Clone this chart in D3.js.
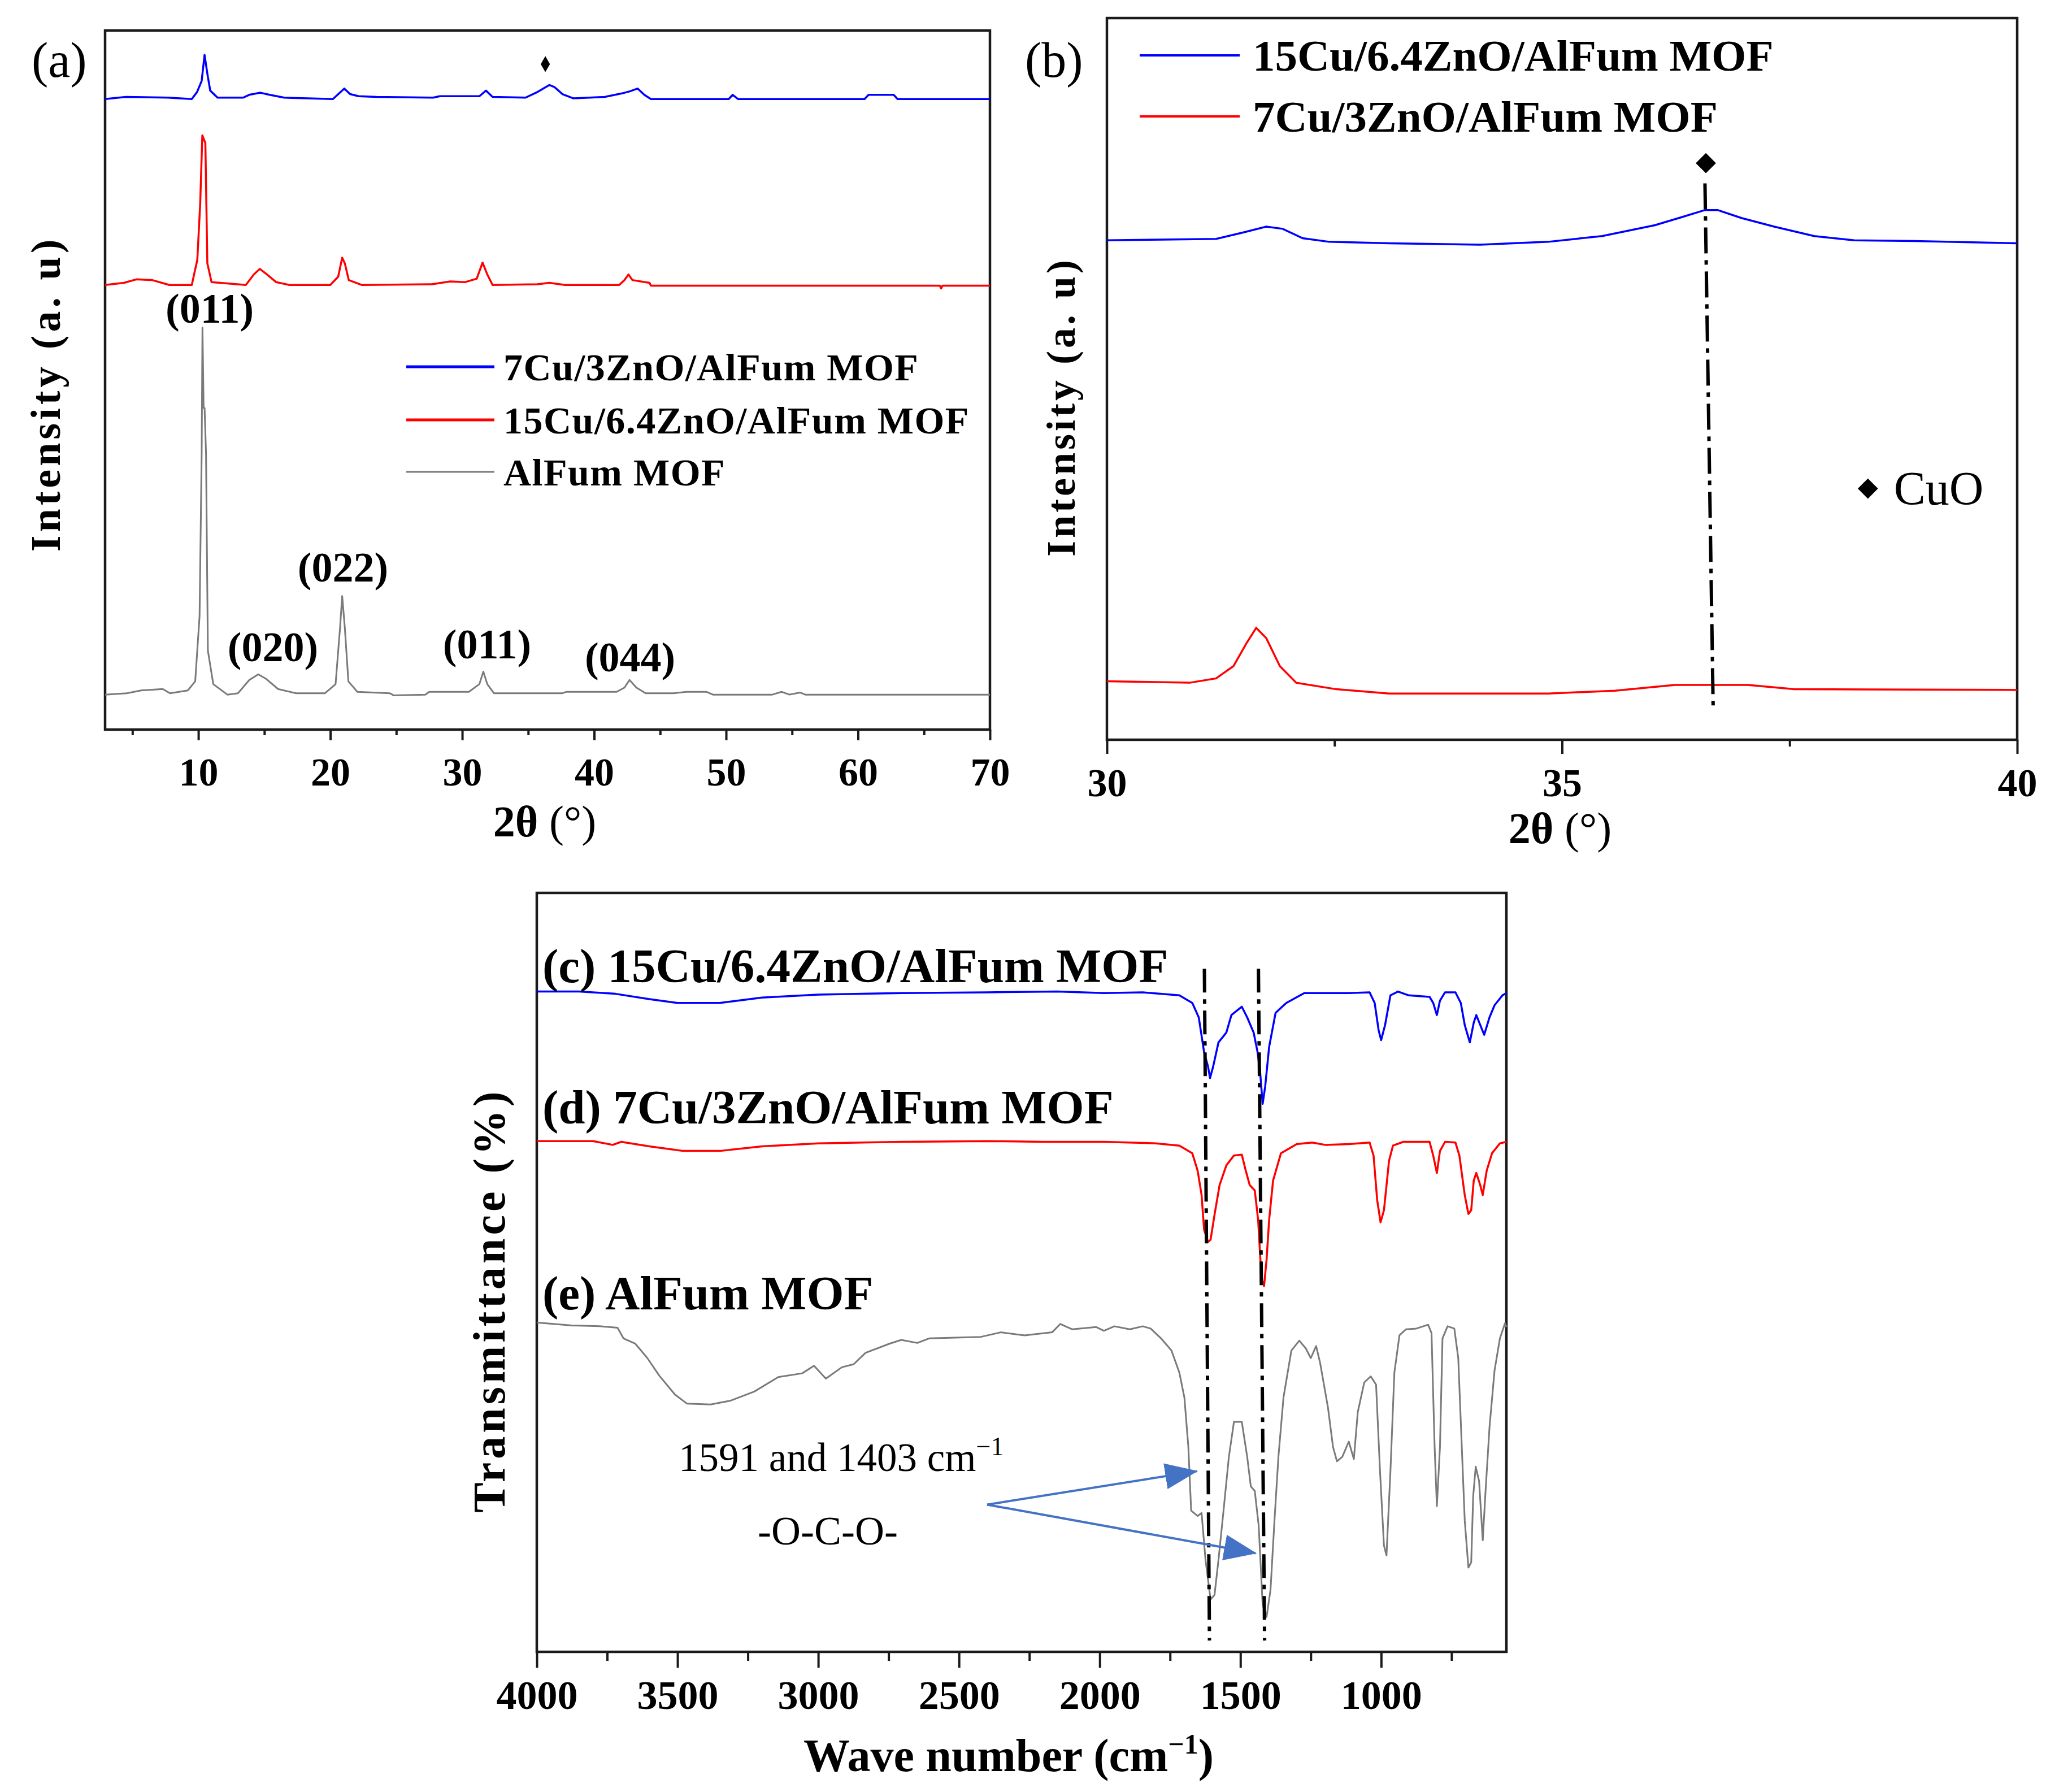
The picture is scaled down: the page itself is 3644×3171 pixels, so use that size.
<!DOCTYPE html>
<html>
<head>
<meta charset="utf-8">
<script src="https://cdn.jsdelivr.net/npm/d3@7"></script>
<style>
  body { margin: 0; background: #fff; }
  text { font-family: "Liberation Serif", "Times New Roman", serif; fill: #000; }
</style>
</head>
<body>
<div id="chart"></div>
<script>

// ---------- data ----------

// (a) XRD, 2theta vs intensity (a.u., offset traces)
let xrdBlue = [[2.93,90.2],[4.5,90.5],[7.7,90.4],[9.5,90.2],[9.9,91.2],[10.25,92.8],[10.47,96.5],[10.7,93.6],[10.9,91.4],[11.45,90.4],[13.4,90.4],[13.85,90.8],[14.7,91.1],[15.4,90.8],[16.5,90.4],[20.2,90.2],[21.06,91.7],[21.5,90.9],[22.15,90.6],[23.5,90.5],[27.8,90.4],[28.3,90.6],[31.3,90.6],[31.8,91.4],[32.3,90.5],[34.8,90.4],[35.7,91.2],[36.6,92.2],[37.0,91.9],[37.6,90.9],[38.4,90.3],[40.8,90.5],[42.1,91.0],[42.7,91.3],[43.3,91.7],[43.8,90.8],[44.3,90.2],[50.2,90.2],[50.5,90.8],[50.9,90.2],[60.5,90.2],[60.8,90.8],[62.7,90.8],[63.0,90.2],[70,90.2]]
let xrdRed = [[2.93,63.6],[4.35,63.9],[5.3,64.4],[6.5,64.3],[7.8,63.6],[9.5,63.6],[9.92,67.2],[10.14,75.3],[10.3,85.0],[10.53,83.9],[10.68,66.7],[11.0,64.0],[13.6,63.6],[14.2,65.1],[14.66,65.9],[15.2,65.1],[15.9,64.0],[16.9,63.6],[20.0,63.6],[20.6,64.8],[20.9,67.5],[21.1,66.7],[21.4,64.3],[22.4,63.6],[27.7,63.7],[29.1,64.1],[30.2,64.0],[31.1,64.5],[31.54,66.8],[31.9,65.1],[32.3,63.6],[35.7,63.7],[36.6,63.9],[37.8,63.6],[41.9,63.6],[42.3,64.3],[42.6,65.1],[42.9,64.3],[44.2,63.9],[44.3,63.5],[66.2,63.5],[66.3,63.1],[66.4,63.5],[70,63.5]]
let xrdGray = [[2.93,5.0],[4.57,5.2],[5.66,5.6],[7.3,5.8],[7.85,5.2],[9.2,5.6],[9.76,6.9],[10.09,16.2],[10.25,39.5],[10.31,57.5],[10.4,46.0],[10.47,46.0],[10.58,39.5],[10.72,11.3],[11.13,6.5],[12.2,5.0],[13.0,5.2],[13.86,7.1],[14.54,7.9],[15.1,7.3],[16.04,5.8],[17.4,5.2],[19.6,5.2],[20.4,6.5],[20.74,14.6],[20.9,19.1],[21.1,14.6],[21.37,6.9],[22.05,5.4],[24.5,5.2],[24.8,4.9],[27.2,5.0],[27.5,5.4],[30.5,5.4],[31.3,6.5],[31.6,8.3],[31.9,6.5],[32.4,5.2],[37.6,5.2],[37.9,5.4],[41.7,5.4],[42.3,6.0],[42.68,7.1],[43.2,6.0],[43.9,5.2],[46,5.2],[47,5.4],[48.5,5.4],[49,5.0],[53.5,5.0],[54.2,5.4],[54.8,5.0],[55.6,5.3],[56,5.0],[70,5.0]]
let xrdNames = ["7Cu/3ZnO/AlFum MOF", "15Cu/6.4ZnO/AlFum MOF", "AlFum MOF"]
let xrdTicks = [10, 20, 30, 40, 50, 60, 70]
let xrdMinor = [5, 15, 25, 35, 45, 55, 65]
// hkl labels: peak position and label height
let hklText = ["(011)", "(020)", "(022)", "(011)", "(044)"]
let hklPos = [10.86, 15.65, 20.96, 31.88, 42.72]
let hklHeight = [58.2, 9.8, 21.2, 10.2, 8.3]
let cuoMarkA = [36.3, 95.2]

// (b) XRD zoom 30-40
let cuoBlue = [[30.0,69.2],[30.6,69.3],[31.2,69.4],[31.5,70.3],[31.75,71.1],[31.93,70.8],[32.15,69.5],[32.44,69.0],[33.1,68.8],[34.1,68.6],[34.85,69.0],[35.44,69.8],[36.02,71.3],[36.31,72.4],[36.57,73.4],[36.71,73.4],[36.97,72.3],[37.33,71.1],[37.77,69.8],[38.21,69.2],[38.87,69.1],[40.0,68.8]]
let cuoRed = [[30.0,8.1],[30.91,7.9],[31.2,8.5],[31.39,10.2],[31.53,13.3],[31.64,15.5],[31.75,14.1],[31.9,10.2],[32.08,7.9],[32.52,7.0],[33.1,6.4],[34.85,6.4],[35.58,6.8],[36.24,7.6],[37.04,7.6],[37.55,7.0],[40.0,6.9]]
let cuoNames = ["15Cu/6.4ZnO/AlFum MOF", "7Cu/3ZnO/AlFum MOF"]
let cuoTicks = [30, 35, 40]
let cuoMinor = [32.5, 37.5]
let cuoLine = [[36.57,77.1],[36.66,4.5]]
let cuoMarkB = [36.58, 79.9]
let cuoKey = [38.36, 34.8]

// (c)-(e) FTIR, wavenumber vs transmittance (offset traces)
let ftirBlue = [[4000,87.0],[3850,87.0],[3720,86.7],[3600,86.0],[3500,85.5],[3350,85.5],[3200,86.2],[3000,86.6],[2700,86.8],[2400,86.9],[2150,87.0],[1985,86.8],[1847,86.9],[1717,86.5],[1671,85.5],[1648,83.6],[1629,79.0],[1615,77.1],[1608,75.6],[1597,77.1],[1578,80.3],[1550,81.6],[1532,83.9],[1495,85.0],[1476,83.6],[1453,81.6],[1439,79.0],[1430,76.4],[1421,72.2],[1412,74.5],[1398,79.7],[1375,84.2],[1337,85.5],[1273,86.8],[1199,86.8],[1115,86.8],[1041,86.9],[1023,85.5],[1009,81.9],[1000,80.6],[986,82.6],[967,86.5],[940,87.0],[902,86.5],[828,86.3],[815,85.5],[802,83.9],[791,85.8],[773,86.9],[736,86.9],[717,85.5],[703,82.6],[685,80.3],[671,82.9],[662,83.9],[648,82.6],[634,81.3],[615,83.6],[597,85.2],[569,86.5],[555,86.8]]
let ftirRed = [[4000,67.3],[3800,67.3],[3730,66.8],[3700,67.2],[3600,66.6],[3480,66.0],[3350,66.0],[3200,66.6],[3000,67.0],[2700,67.2],[2400,67.3],[2200,67.2],[1985,67.2],[1800,67.0],[1717,66.7],[1671,65.7],[1652,63.4],[1638,60.2],[1629,55.6],[1615,54.0],[1606,54.3],[1592,57.6],[1574,61.5],[1550,64.1],[1523,65.4],[1495,65.5],[1481,63.4],[1467,61.5],[1449,60.8],[1437,56.9],[1425,49.1],[1416,48.2],[1407,51.7],[1398,56.9],[1384,62.1],[1356,65.7],[1300,66.9],[1245,67.1],[1199,66.8],[1115,66.9],[1041,67.1],[1027,65.4],[1014,59.5],[1002,56.6],[990,58.2],[972,64.7],[958,66.7],[921,67.2],[828,67.2],[815,65.4],[802,63.1],[791,66.0],[773,67.2],[736,67.1],[722,65.4],[703,60.2],[690,57.7],[680,58.2],[671,62.1],[662,63.1],[648,61.5],[639,60.2],[625,63.4],[606,65.7],[578,67.0],[555,67.2]]
let ftirGray = [[4000,43.4],[3875,43.0],[3777,42.9],[3713,42.7],[3692,41.3],[3650,40.6],[3607,38.7],[3565,36.4],[3509,33.9],[3466,32.7],[3382,32.6],[3311,33.1],[3227,34.3],[3142,36.2],[3057,36.7],[3015,37.7],[2973,36.0],[2916,37.5],[2874,37.9],[2832,39.4],[2747,40.6],[2705,41.1],[2648,40.7],[2606,41.3],[2422,41.5],[2352,42.1],[2267,41.7],[2169,42.1],[2140,43.2],[2098,42.5],[2013,42.8],[1985,42.3],[1948,42.9],[1893,42.5],[1847,42.9],[1819,42.6],[1782,41.3],[1745,39.7],[1717,36.8],[1699,33.5],[1685,27.0],[1675,18.6],[1652,17.9],[1638,18.3],[1624,12.1],[1606,6.9],[1592,7.5],[1578,12.1],[1560,18.6],[1541,25.7],[1523,30.3],[1495,30.3],[1476,25.7],[1463,21.8],[1449,21.2],[1435,16.6],[1421,6.2],[1407,4.6],[1393,8.2],[1379,17.3],[1365,25.7],[1347,33.5],[1319,39.7],[1291,41.0],[1268,40.0],[1250,38.7],[1231,40.3],[1217,38.1],[1189,32.2],[1171,27.0],[1157,25.1],[1138,25.7],[1115,27.7],[1097,25.4],[1083,31.6],[1060,35.5],[1037,36.3],[1018,35.2],[1004,23.8],[990,14.0],[981,12.7],[967,23.8],[953,36.8],[935,41.7],[912,42.5],[875,42.6],[833,43.1],[821,42.0],[810,27.0],[802,19.2],[791,27.0],[782,41.3],[764,42.9],[740,42.6],[726,38.7],[717,30.3],[703,17.3],[690,11.1],[680,11.8],[673,20.5],[664,24.4],[652,22.5],[639,14.7],[629,21.2],[615,29.6],[597,37.1],[578,41.3],[560,43.3],[555,42.8]]
let ftirNames = ["(c) 15Cu/6.4ZnO/AlFum MOF", "(d) 7Cu/3ZnO/AlFum MOF", "(e) AlFum MOF"]
let ftirTicks = [4000, 3500, 3000, 2500, 2000, 1500, 1000]
let ftirMinor = [3750, 3250, 2750, 2250, 1750, 1250, 750]
let ftirMarks = [[[1628,90],[1610,1.5]], [[1436,90],[1414,1.5]]]
// arrow: common start, two tips
let arrowFrom = [2400, 19.4]
let arrowTips = [[1655,23.8],[1446,13.0]]

// ---------- layout ----------

const W = 3644, H = 3171
const pA = {left: 186, top: 54, right: 1752, bottom: 1291}
const pB = {left: 1959, top: 32, right: 3570, bottom: 1309}
const pC = {left: 950, top: 1580, right: 2666, bottom: 2923}

const blue = "#0000ff", red = "#ff0000", gray = "#7a7a7a", ink = "#1a1a1a"

let svg = d3.select("#chart").append("svg")
    .attr("width", W)
    .attr("height", H)

svg.append("rect").attr("width", W).attr("height", H).attr("fill", "#fff")

let defs = svg.append("defs")
defs.append("marker")
    .attr("id", "arrowHead")
    .attr("markerUnits", "userSpaceOnUse")
    .attr("markerWidth", 58).attr("markerHeight", 46)
    .attr("refX", 56).attr("refY", 23)
    .attr("orient", "auto")
    .append("path")
    .attr("d", "M0,0 L58,23 L0,46 Z")
    .attr("fill", "#4472c4")

// frame + bottom axis helper
function drawAxes(p, x, major, minor, majorLen, minorLen, pad, fs) {
    let g = svg.append("g")

    let ax = g.append("g")
        .attr("transform", "translate(0," + p.bottom + ")")
        .call(d3.axisBottom(x).tickValues(major).tickSize(majorLen).tickPadding(pad).tickFormat(d3.format("d")))
    ax.select(".domain").remove()
    ax.selectAll("line").attr("stroke", ink).attr("stroke-width", 4)
    ax.selectAll("text")
        .attr("font-size", fs)
        .attr("font-weight", "bold")
        .attr("font-family", "'Liberation Serif', 'Times New Roman', serif")
        .attr("fill", "#000")

    let mx = g.append("g")
        .attr("transform", "translate(0," + p.bottom + ")")
        .call(d3.axisBottom(x).tickValues(minor).tickSize(minorLen).tickFormat(""))
    mx.select(".domain").remove()
    mx.selectAll("line").attr("stroke", ink).attr("stroke-width", 4)

    g.append("rect")
        .attr("x", p.left).attr("y", p.top)
        .attr("width", p.right - p.left).attr("height", p.bottom - p.top)
        .attr("fill", "none")
        .attr("stroke", ink)
        .attr("stroke-width", 4.5)
    return g
}

function yTitle(cx, cy, txt, fs, spacing) {
    svg.append("text")
        .attr("transform", "translate(" + cx + "," + cy + ") rotate(-90)")
        .attr("text-anchor", "middle")
        .attr("dominant-baseline", "central")
        .attr("font-size", fs)
        .attr("font-weight", "bold")
        .attr("letter-spacing", spacing)
        .text(txt)
}

function thetaTitle(cx, base) {
    let t = svg.append("text")
        .attr("x", cx).attr("y", base)
        .attr("text-anchor", "middle")
        .attr("font-size", 78)
    t.append("tspan").attr("font-weight", "bold").text("2θ")
    t.append("tspan").text(" (°)")
}

// ---------- (a) ----------

let xA = d3.scaleLinear().domain([2.93, 70]).range([pA.left, pA.right])
let yA = d3.scaleLinear().domain([0, 100]).range([pA.bottom, pA.top])
let lineA = d3.line().x(d => xA(d[0])).y(d => yA(d[1]))

drawAxes(pA, xA, xrdTicks, xrdMinor, 19, 10, 30, 70)

let seriesA = [xrdBlue, xrdRed, xrdGray]
let colorsA = [blue, red, gray]
let widthsA = [3.5, 3.5, 3]

svg.selectAll(".xrd-a").data(seriesA).enter()
    .append("path")
    .attr("class", "xrd-a")
    .attr("d", d => lineA(d))
    .attr("fill", "none")
    .attr("stroke", (d, i) => colorsA[i])
    .attr("stroke-width", (d, i) => widthsA[i])
    .attr("stroke-linejoin", "round")

svg.append("path")
    .attr("transform", "translate(" + xA(cuoMarkA[0]) + "," + yA(cuoMarkA[1]) + ")")
    .attr("d", d3.symbol().type(d3.symbolDiamond).size(230)())
    .attr("fill", "#000")

svg.selectAll(".hkl").data(hklText).enter()
    .append("text")
    .attr("class", "hkl")
    .attr("x", (d, i) => xA(hklPos[i]))
    .attr("y", (d, i) => yA(hklHeight[i]))
    .attr("text-anchor", "middle")
    .attr("font-size", 74)
    .attr("font-weight", "bold")
    .text(d => d)

// legend (a)
let legA = [649, 743, 835]
xrdNames.forEach(function (name, i) {
    svg.append("line")
        .attr("x1", 719).attr("x2", 875)
        .attr("y1", legA[i]).attr("y2", legA[i])
        .attr("stroke", colorsA[i])
        .attr("stroke-width", i == 2 ? 3 : 5)
    svg.append("text")
        .attr("x", 891).attr("y", legA[i] + 24)
        .attr("font-size", 68)
        .attr("font-weight", "bold")
        .attr("letter-spacing", 1.5)
        .text(name)
})

svg.append("text").attr("x", 56).attr("y", 136).attr("font-size", 88).text("(a)")
yTitle(81, 697, "Intensity (a. u)", 74, 6)
thetaTitle(964, 1480)

// ---------- (b) ----------

let xB = d3.scaleLinear().domain([30, 40]).range([pB.left, pB.right])
let yB = d3.scaleLinear().domain([0, 100]).range([pB.bottom, pB.top])
let lineB = d3.line().x(d => xB(d[0])).y(d => yB(d[1]))

drawAxes(pB, xB, cuoTicks, cuoMinor, 25, 12, 25, 70)

let seriesB = [cuoBlue, cuoRed]
let colorsB = [blue, red]

svg.selectAll(".xrd-b").data(seriesB).enter()
    .append("path")
    .attr("class", "xrd-b")
    .attr("d", d => lineB(d))
    .attr("fill", "none")
    .attr("stroke", (d, i) => colorsB[i])
    .attr("stroke-width", 3.5)

svg.append("path")
    .attr("d", lineB(cuoLine))
    .attr("stroke", "#000")
    .attr("stroke-width", 6)
    .attr("stroke-dasharray", "46,12,8,12")
    .attr("fill", "none")

let diamondB = d3.symbol().type(d3.symbolSquare).size(640)()
svg.append("path")
    .attr("transform", "translate(" + xB(cuoMarkB[0]) + "," + yB(cuoMarkB[1]) + ") rotate(45)")
    .attr("d", diamondB)
    .attr("fill", "#000")
svg.append("path")
    .attr("transform", "translate(" + xB(cuoKey[0]) + "," + yB(cuoKey[1]) + ") rotate(45)")
    .attr("d", diamondB)
    .attr("fill", "#000")
svg.append("text")
    .attr("x", xB(cuoKey[0]) + 46)
    .attr("y", yB(cuoKey[1]))
    .attr("dominant-baseline", "central")
    .attr("font-size", 84)
    .text("CuO")

let legB = [98, 206]
cuoNames.forEach(function (name, i) {
    svg.append("line")
        .attr("x1", 2017).attr("x2", 2194)
        .attr("y1", legB[i]).attr("y2", legB[i])
        .attr("stroke", colorsB[i])
        .attr("stroke-width", 4)
    svg.append("text")
        .attr("x", 2217).attr("y", legB[i] + 27)
        .attr("font-size", 79)
        .attr("font-weight", "bold")
        .text(name)
})

svg.append("text").attr("x", 1814).attr("y", 136).attr("font-size", 88).text("(b)")
yTitle(1878, 720, "Intensity (a. u)", 72, 5)
thetaTitle(2761, 1492)

// ---------- (c)-(e) FTIR ----------

let xC = d3.scaleLinear().domain([4000, 555]).range([pC.left, pC.right])
let yC = d3.scaleLinear().domain([0, 100]).range([pC.bottom, pC.top])
let lineC = d3.line().x(d => xC(d[0])).y(d => yC(d[1]))

drawAxes(pC, xC, ftirTicks, ftirMinor, 28, 16, 22, 72)

let seriesC = [ftirBlue, ftirRed, ftirGray]
let colorsC = [blue, red, gray]

svg.selectAll(".ftir").data(seriesC).enter()
    .append("path")
    .attr("class", "ftir")
    .attr("d", d => lineC(d))
    .attr("fill", "none")
    .attr("stroke", (d, i) => colorsC[i])
    .attr("stroke-width", (d, i) => i == 2 ? 3 : 3.5)
    .attr("stroke-linejoin", "round")

svg.selectAll(".ftir-mark").data(ftirMarks).enter()
    .append("path")
    .attr("class", "ftir-mark")
    .attr("d", d => lineC(d))
    .attr("stroke", "#000")
    .attr("stroke-width", 6)
    .attr("stroke-dasharray", "42,12,8,12")
    .attr("fill", "none")

let ftirBase = [1738, 1988, 2317]
ftirNames.forEach(function (name, i) {
    svg.append("text")
        .attr("x", 960).attr("y", ftirBase[i])
        .attr("font-size", 85)
        .attr("font-weight", "bold")
        .text(name)
})

arrowTips.forEach(function (tip) {
    svg.append("line")
        .attr("x1", xC(arrowFrom[0])).attr("y1", yC(arrowFrom[1]))
        .attr("x2", xC(tip[0])).attr("y2", yC(tip[1]))
        .attr("stroke", "#4472c4")
        .attr("stroke-width", 4)
        .attr("marker-end", "url(#arrowHead)")
})

let note = svg.append("text").attr("x", 1201).attr("y", 2603).attr("font-size", 71)
note.append("tspan").text("1591 and 1403 cm")
note.append("tspan").attr("dy", -28).attr("font-size", 46).text("−1")
svg.append("text").attr("x", 1341).attr("y", 2733).attr("font-size", 72).text("-O-C-O-")

yTitle(866, 2301, "Transmittance (%)", 80, 6)

let xt = svg.append("text")
    .attr("x", 1785).attr("y", 3134)
    .attr("text-anchor", "middle")
    .attr("font-size", 82)
    .attr("font-weight", "bold")
xt.append("tspan").text("Wave number (cm")
xt.append("tspan").attr("dy", -31).attr("font-size", 50).text("−1")
xt.append("tspan").attr("dy", 31).text(")")

</script>
</body>
</html>
